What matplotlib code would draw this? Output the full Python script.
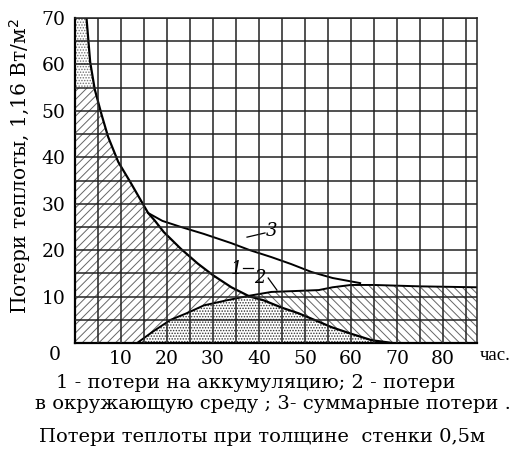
import numpy as np
import matplotlib
matplotlib.use('Agg')
import matplotlib.pyplot as plt

plt.rcParams['font.family'] = ['DejaVu Serif']
plt.rcParams['hatch.linewidth'] = 0.7

# curve 1 - потери на аккумуляцию
x1 = [2.5, 3.3, 4.3, 5.8, 7.2, 9.4, 12, 14.5, 15.9, 17.4, 19.3, 23, 26.7, 30, 34, 38,
      41, 45, 48.6, 52, 55.8, 60, 64.5, 69]
y1 = [70, 60.5, 54.6, 49.1, 44.4, 39, 34.7, 30.4, 28, 26.3, 23.9, 20.3, 17.1, 14.6, 12,
      10, 9.2, 7.6, 6.4, 5, 3.4, 2, 0.6, 0]
# curve 2 - потери в окружающую среду
x2 = [13.5, 17, 20.8, 24.5, 28, 33, 38, 42.7, 48, 53, 56, 60, 65, 75, 87.4]
y2 = [0, 2.5, 5, 6.5, 8.1, 9.2, 10.2, 11, 11.2, 11.4, 12, 12.5, 12.5, 12.2, 12]
# curve 3 - суммарные потери
x3 = [15.9, 19, 23, 28, 34, 38, 42.7, 47, 51.4, 56, 62]
y3 = [28, 26.3, 25, 23.5, 21.5, 20, 18.5, 17, 15.3, 14, 12.9]

xticks = [10, 20, 30, 40, 50, 60, 70, 80]
yticks = [10, 20, 30, 40, 50, 60, 70]

fig = plt.figure(figsize=(5.12, 4.57), dpi=100)
ax = fig.add_axes([75/512, 114/457, 402/512, 325/457])

xx = np.linspace(0, 87.4, 900)
c1 = np.interp(xx, x1, y1, left=70, right=0)
c2 = np.interp(xx, x2, y2, left=0, right=y2[-1])

ax.fill_between(xx, c2, np.minimum(c1, 55), where=c1 >= c2, facecolor='none',
                edgecolor='0.4', hatch='////', linewidth=0)
ax.fill_between(xx, 55, c1, where=c1 > 55, facecolor='none',
                edgecolor='0.45', hatch='......', linewidth=0)
ax.fill_between(xx, 0, np.minimum(c1, c2), where=c2 > 0, facecolor='none',
                edgecolor='0.2', hatch='......', linewidth=0)
ax.fill_between(xx, c1, c2, where=c2 >= c1, facecolor='none',
                edgecolor='0.4', hatch='\\\\\\\\', linewidth=0)

ax.plot(x1, y1, color='k', lw=1.6)
ax.plot(x2, y2, color='k', lw=1.4)
ax.plot(x3, y3, color='k', lw=1.4)

# labels on curves
ax.text(42.8, 24.1, '3', fontsize=13, style='italic', ha='center', va='center')
ax.plot([37.4, 41.3], [22.8, 23.7], color='k', lw=0.9)
ax.text(35.2, 15.9, '1', fontsize=13, style='italic', ha='center', va='center')
ax.plot([36.5, 38.7], [16.2, 16.2], color='k', lw=0.9)
ax.text(40.2, 14.0, '2', fontsize=13, style='italic', ha='center', va='center')
ax.plot([42, 43.9], [14, 11.4], color='k', lw=0.9)

ax.set_xlim(0, 87.4)
ax.set_ylim(0, 70)
ax.set_xticks(xticks)
ax.set_yticks(yticks)
ax.set_xticks(np.arange(5, 87, 5), minor=True)
ax.set_yticks(np.arange(5, 70, 5), minor=True)
ax.tick_params(which='both', length=0, labelsize=13.5)
ax.tick_params(axis='x', pad=5)
ax.tick_params(axis='y', pad=7)
ax.grid(which='both', color='#222222', lw=1.1)
ax.set_axisbelow(False)
for s in ['left', 'bottom']:
    ax.spines[s].set_linewidth(1.6)
for s in ['top', 'right']:
    ax.spines[s].set_linewidth(1.1)
    ax.spines[s].set_color('#222222')

ax.text(-0.05, -0.037, '0', transform=ax.transAxes, fontsize=13.5, ha='center', va='center')
ax.text(1.008, -0.037, 'час.', transform=ax.transAxes, fontsize=13.5,
        family='Liberation Serif', ha='left', va='center')

fig.text(20/512, 1 - 166/457, 'Потери теплоты, 1,16 Вт/м$^2$', rotation=90,
         fontsize=14.5, ha='center', va='center')

fig.text(256/512, 1 - 383/457, '1 - потери на аккумуляцию; 2 - потери',
         fontsize=14, ha='center', va='center')
fig.text(273/512, 1 - 404/457, 'в окружающую среду ; 3- суммарные потери .',
         fontsize=14, ha='center', va='center')
fig.text(262/512, 1 - 437/457, 'Потери теплоты при толщине  стенки 0,5м',
         fontsize=14, ha='center', va='center')

fig.savefig('out.png', dpi=100)
